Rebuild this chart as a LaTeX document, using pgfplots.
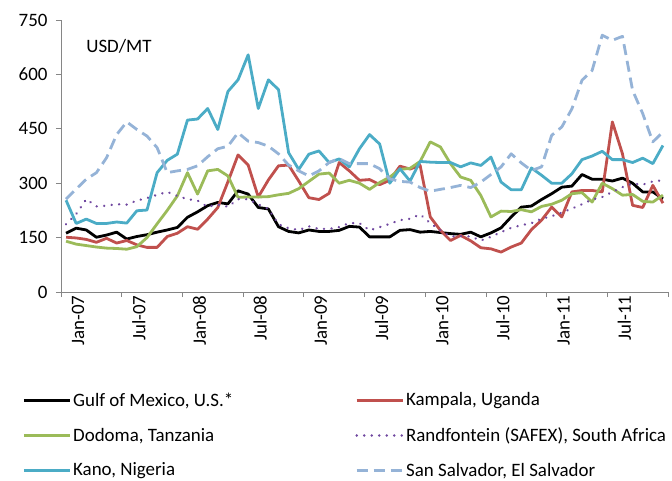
\documentclass[border=0pt]{standalone}
\usepackage{fontspec}
\setmainfont{Carlito}
\usepackage{pgfplots}
\usepackage{pgfplotstable}
\pgfplotsset{compat=1.18}
\definecolor{axisgray}{RGB}{134,134,134}
\definecolor{kampala}{RGB}{192,80,77}
\definecolor{dodoma}{RGB}{155,187,89}
\definecolor{randf}{RGB}{112,72,160}
\definecolor{kano}{RGB}{75,172,198}
\definecolor{sansal}{RGB}{149,179,215}

% monthly maize prices, USD/MT, Jan-07 (m=0) to Dec-11 (m=59)
\pgfplotstableread{
m gulf kamp dodo rand kano sans
0 162 151 140 187 253 256
1 176 149 132 215 189 284
2 171 145 128 256 201 311
3 151 137 124 236 189 329
4 157 148 121 238 189 370
5 165 135 120 242 193 434
6 146 142 118 241 190 469
7 153 130 125 252 224 448
8 158 123 150 259 226 430
9 165 123 188 268 329 398
10 171 153 225 276 363 329
11 178 162 265 265 380 334
12 206 180 329 256 474 338
13 221 173 270 252 477 348
14 238 201 334 235 506 373
15 247 233 338 241 448 395
16 243 304 320 235 553 402
17 279 378 261 256 585 439
18 270 350 262 256 654 416
19 233 262 262 242 506 412
20 229 309 263 229 585 402
21 180 348 268 187 558 381
22 167 350 272 176 384 350
23 163 306 285 171 338 334
24 171 260 305 181 380 320
25 167 255 325 174 389 334
26 167 272 328 174 357 357
27 170 357 300 179 367 368
28 181 334 308 190 345 354
29 179 308 300 190 395 354
30 152 310 283 170 434 354
31 152 296 302 179 408 340
32 152 308 317 188 300 312
33 170 347 338 198 340 305
34 172 339 341 202 306 303
35 165 349 360 214 360 288
36 167 207 414 190 358 278
37 164 170 400 170 357 283
38 161 142 354 153 357 288
39 159 156 317 154 345 294
40 165 141 308 153 356 288
41 152 122 266 142 349 303
42 163 119 207 152 372 324
43 177 110 223 165 303 345
44 207 124 222 177 282 381
45 234 135 227 184 282 356
46 237 172 221 190 342 335
47 255 198 236 202 322 345
48 271 234 242 209 300 432
49 289 207 253 219 300 455
50 292 276 271 230 326 505
51 324 280 274 242 365 584
52 311 280 248 255 375 611
53 311 276 300 262 388 708
54 306 469 285 276 365 694
55 314 381 267 289 365 705
56 300 239 269 299 357 556
57 276 233 250 296 369 492
58 276 294 248 305 354 414
59 257 245 267 308 404 441
}\prices

\begin{document}
\begin{tikzpicture}
\useasboundingbox (0,0) rectangle (672bp,481bp);
\begin{axis}[
    at={(61bp,189bp)}, anchor=south west,
    scale only axis, width=607bp, height=272bp,
    xmin=-0.5, xmax=59.5, ymin=0, ymax=750,
    axis x line*=bottom, axis y line*=left,
    axis line style={draw=axisgray, line width=0.8bp},
    font=\fontsize{19}{22}\selectfont,
    /pgf/number format/assume math mode=true,
    ytick={0,150,...,750},
    minor ytick={0,150,...,750},
    xtick={0,6,...,54},
    xticklabels={Jan-07,Jul-07,Jan-08,Jul-08,Jan-09,Jul-09,Jan-10,Jul-10,Jan-11,Jul-11},
    minor xtick={-0.5,5.5,...,59.5},
    tick align=outside,
    major tick length=0pt, minor tick length=5bp,
    tick style={draw=axisgray, line width=0.8bp},
    yticklabel style={xshift=-10bp},
    xticklabel style={rotate=90, anchor=east, yshift=-12bp},
    legend columns=2,
    legend style={draw=none, fill=none, inner sep=0pt,
        at={(rel axis cs:-0.064,-0.362)}, anchor=north west,
        cells={anchor=west}, row sep=16bp,
        /tikz/every even column/.append style={column sep=120bp}},
    legend image code/.code={\draw[#1] (0bp,0bp) -- (46bp,0bp);},
    every axis plot/.append style={line width=2.8bp, line join=round},
]
\addplot[black] table[x=m, y=gulf] {\prices};
\addlegendentry{Gulf of Mexico, U.S.*}
\addplot[kampala] table[x=m, y=kamp] {\prices};
\addlegendentry{Kampala, Uganda}
\addplot[dodoma] table[x=m, y=dodo] {\prices};
\addlegendentry{Dodoma, Tanzania}
\addplot[randf, line width=2.6bp, line cap=round, dash pattern=on 0.01bp off 7.5bp] table[x=m, y=rand] {\prices};
\addlegendentry{Randfontein (SAFEX), South Africa}
\addplot[kano] table[x=m, y=kano] {\prices};
\addlegendentry{Kano, Nigeria}
\addplot[sansal, dash pattern=on 11bp off 6bp] table[x=m, y=sans] {\prices};
\addlegendentry{San Salvador, El Salvador}
\node[anchor=west, font=\fontsize{19}{22}\selectfont] at (rel axis cs:0.036,0.904) {USD/MT};
\end{axis}
\end{tikzpicture}
\end{document}
